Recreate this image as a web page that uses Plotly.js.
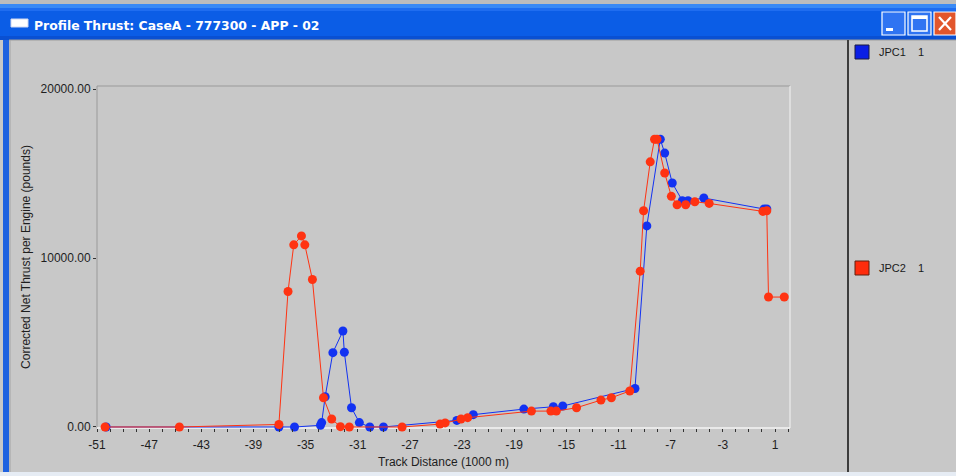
<!DOCTYPE html>
<html>
<head>
<meta charset="utf-8">
<script src="https://cdn.plot.ly/plotly-3.0.1.min.js"></script>
<style>html,body{margin:0;padding:0;background:#c8c8c8;}#chart{width:956px;height:476px;}</style>
</head>
<body>
<div id="chart"></div>
<script>
// ---- data ----
const windowTitle = "Profile Thrust: CaseA - 777300 - APP - 02";
const xTitle = "Track Distance (1000 m)";
const yTitle = "Corrected Net Thrust per Engine (pounds)";
const seriesNames = ["JPC1", "JPC2"];
const seriesRuns = ["1", "1"];
const xTickVals = [-51, -47, -43, -39, -35, -31, -27, -23, -19, -15, -11, -7, -3, 1];
const yTickVals = [0, 10000, 20000];

const jpc1X = [-50.3, -37.05, -35.85, -33.86, -33.77, -33.5, -32.91, -32.14, -32.03, -31.48, -30.88, -30.08, -29.03,
  -23.4, -22.14, -18.26, -16.0, -15.28, -9.74, -8.83, -7.8, -7.46, -6.88, -6.11, -5.67, -4.46, 0.16, 0.37];
const jpc1Y = [0, 0, 0, 100, 260, 1790, 4400, 5680, 4420, 1140, 260, 0, 0,
  390, 730, 1060, 1200, 1240, 2280, 11900, 17030, 16210, 14440, 13390, 13390, 13550, 12900, 12900];

const jpc2X = [-50.38, -44.68, -37.05, -36.35, -35.91, -35.32, -35.06, -34.48, -33.63, -33.0, -32.33, -31.65, -27.6,
  -24.69, -24.3, -23.08, -22.57, -17.68, -16.19, -15.77, -14.22, -12.35, -11.55, -10.14, -9.34, -9.08, -8.57,
  -8.24, -8.05, -7.46, -6.95, -6.51, -5.85, -5.15, -4.05, 0.07, 0.37, 0.5, 1.71];
const jpc2Y = [0, 0, 150, 8020, 10780, 11310, 10780, 8730, 1730, 470, 20, 0, 0,
  170, 240, 470, 550, 940, 940, 940, 1140, 1590, 1730, 2130, 9220, 12800, 15690,
  17030, 17030, 15030, 13650, 13150, 13150, 13330, 13230, 12760, 12800, 7690, 7690];

// ---- styling / layout helpers ----
const COL_BLUE = "#1232f2", COL_RED = "#ff3312";
const L = 97, R = 790, T = 86, B = 428;
const px = v => (v - L) / (R - L);
const py = v => (B - v) / (B - T);
function rect(x0, y0, x1, y1, fill, line, lw) {
  return {type: "rect", xref: "paper", yref: "paper", x0: px(x0), x1: px(x1), y0: py(y0), y1: py(y1),
    fillcolor: fill, line: {color: line || fill, width: lw === undefined ? 0 : lw}, layer: "below"};
}
function seg(x0, y0, x1, y1, color, w, layer) {
  return {type: "line", xref: "paper", yref: "paper", x0: px(x0), x1: px(x1), y0: py(y0), y1: py(y1),
    line: {color: color, width: w}, layer: layer || "below"};
}

const shapes = [
  rect(0, 0, 956, 4, "#bdbdbd"),
  rect(0, 4, 956, 40, "#0b5de6"),
  rect(0, 4, 956, 8, "#3a8af5"),
  rect(0, 8, 956, 11, "#1f6df0"),
  rect(0, 36, 956, 40, "#0a50d2"),
  rect(3, 40, 9, 476, "#1f62e0"),
  seg(9, 40, 956, 40, "#9c9c9c", 1),
  seg(10, 40, 10, 472, "#a4a4a4", 1),
  rect(0, 472, 956, 476, "#e6ecf4"),
  // window icon
  rect(11, 19, 28, 27, "#ffffff", "#d0d8f0", 1),
  // buttons
  rect(882, 12, 905, 35, "#2f74f2", "#ffffff", 1.2),
  rect(908, 12, 931, 35, "#2f74f2", "#ffffff", 1.2),
  rect(934, 12, 956, 35, "#e2562c", "#ffffff", 1.2),
  rect(886, 28, 893, 31, "#ffffff"),
  rect(912, 16, 927, 31, "rgba(0,0,0,0)", "#ffffff", 1.5),
  rect(912, 16, 927, 19, "#ffffff"),
  seg(939, 17, 951, 30, "#ffffff", 2.2),
  seg(951, 17, 939, 30, "#ffffff", 2.2),
  // plot frame (3D inset look)
  seg(L, T, R, T, "#9a9a9a", 1),
  seg(L, T, L, B, "#9a9a9a", 1),
  seg(R, T, R, B, "#f4f4f4", 1),
  seg(L, B, R, B, "#f4f4f4", 1.5),
  // separator before legend
  seg(848, 40, 848, 472, "#3c3c3c", 2),
  // legend swatches
  rect(855, 45, 869, 59, "#0a1ee6", "#1a1a40", 1),
  rect(855, 261, 869, 275, "#ff2c0c", "#602010", 1)
];

const annotations = [
  {xref: "paper", yref: "paper", x: px(32), y: py(25), xanchor: "left", yanchor: "middle", showarrow: false,
   text: "<b>" + windowTitle + "</b>", font: {family: "DejaVu Sans, Verdana, sans-serif", size: 12.4, color: "#ffffff"}},
  {xref: "paper", yref: "paper", x: px(877), y: py(52), xanchor: "left", yanchor: "middle", showarrow: false,
   text: seriesNames[0], font: {family: "Liberation Sans, Arial, sans-serif", size: 11, color: "#1a1a1a"}},
  {xref: "paper", yref: "paper", x: px(916), y: py(52), xanchor: "left", yanchor: "middle", showarrow: false,
   text: seriesRuns[0], font: {family: "Liberation Sans, Arial, sans-serif", size: 11, color: "#1a1a1a"}},
  {xref: "paper", yref: "paper", x: px(877), y: py(268), xanchor: "left", yanchor: "middle", showarrow: false,
   text: seriesNames[1], font: {family: "Liberation Sans, Arial, sans-serif", size: 11, color: "#1a1a1a"}},
  {xref: "paper", yref: "paper", x: px(916), y: py(268), xanchor: "left", yanchor: "middle", showarrow: false,
   text: seriesRuns[1], font: {family: "Liberation Sans, Arial, sans-serif", size: 11, color: "#1a1a1a"}}
];

const traces = [
  {x: jpc1X, y: jpc1Y, name: seriesNames[0], type: "scatter", mode: "lines+markers",
   line: {color: COL_BLUE, width: 1}, marker: {color: COL_BLUE, size: 9}, cliponaxis: false},
  {x: jpc2X, y: jpc2Y, name: seriesNames[1], type: "scatter", mode: "lines+markers",
   line: {color: COL_RED, width: 1}, marker: {color: COL_RED, size: 9}, cliponaxis: false}
];

const font = {family: "Liberation Sans, Arial, sans-serif", size: 12, color: "#1e1e1e"};
const layout = {
  width: 956, height: 476,
  margin: {l: L, r: 956 - R, t: T, b: 476 - B, pad: 0},
  paper_bgcolor: "#c8c8c8", plot_bgcolor: "rgba(0,0,0,0)",
  showlegend: false, font: font,
  xaxis: {
    range: [-51, 2.15], tickvals: xTickVals, ticktext: xTickVals.map(String),
    ticks: "outside", ticklen: 3, tickwidth: 1, tickcolor: "#333333", ticklabelstandoff: 3,
    minor: {dtick: 1, tick0: -51, ticks: "outside", ticklen: 3, tickwidth: 1, tickcolor: "#333333", showgrid: false},
    showgrid: false, zeroline: false, showline: false, tickfont: font,
    title: {text: xTitle, font: font, standoff: 6}
  },
  yaxis: {
    range: [-60, 20180], tickvals: yTickVals, tickformat: ".2f",
    ticks: "outside", ticklen: 3, tickwidth: 1, tickcolor: "#333333",
    showgrid: false, zeroline: false, showline: false, tickfont: font,
    title: {text: yTitle, font: font, standoff: 7}
  },
  shapes: shapes,
  annotations: annotations
};

Plotly.newPlot("chart", traces, layout, {staticPlot: true, displayModeBar: false});
</script>
</body>
</html>
